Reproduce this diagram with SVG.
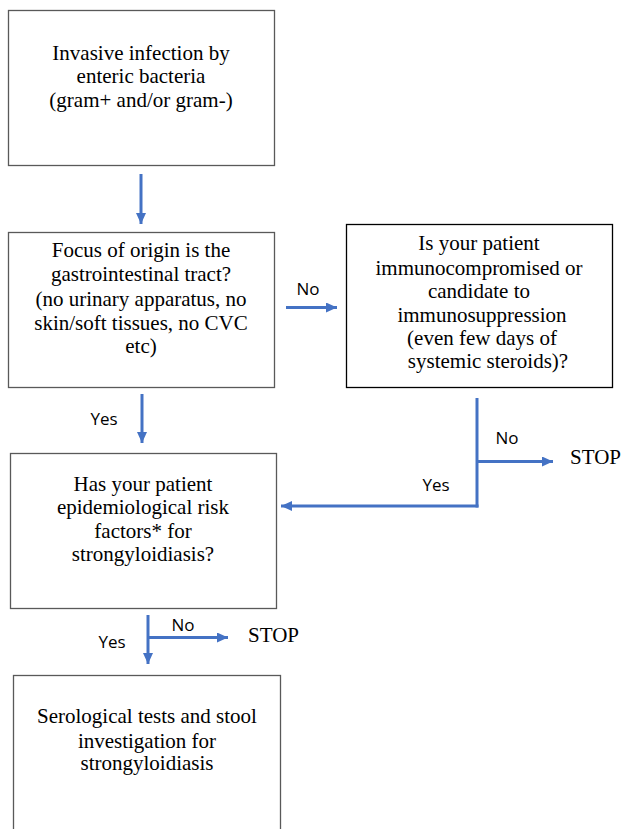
<svg xmlns="http://www.w3.org/2000/svg" width="622" height="829" viewBox="0 0 622 829">
<style>
.box{fill:#fff;stroke:#595959;stroke-width:1.3}
.box.dark{stroke:#000}
.t{font-family:"Liberation Serif","Times New Roman",serif;font-size:21px;fill:#000;text-anchor:middle}
.l{font-family:"Open Sans","Liberation Sans",Arial,sans-serif;font-size:17px;fill:#000;text-anchor:middle}
.c{fill:none;stroke:#4472C4;stroke-width:3}
</style>
<defs>
<marker id="ah" markerUnits="userSpaceOnUse" markerWidth="12" markerHeight="11" refX="11" refY="5" orient="auto">
<path d="M0,0 L11,5 L0,10 z" fill="#4472C4"/>
</marker>
</defs>
<rect width="622" height="829" fill="#fff"/>
<g id="n1">
<rect class="box" x="8.5" y="10.5" width="266" height="155"/>
<text class="t" x="141" y="60">Invasive infection by</text>
<text class="t" x="141" y="83">enteric bacteria</text>
<text class="t" x="141" y="107">(gram+ and/or gram-)</text>
</g>
<g id="n2">
<rect class="box" x="8.5" y="232.5" width="266" height="155"/>
<text class="t" x="141" y="257">Focus of origin is the</text>
<text class="t" x="141" y="281">gastrointestinal tract?</text>
<text class="t" x="141" y="306">(no urinary apparatus, no</text>
<text class="t" x="141" y="330">skin/soft tissues, no CVC</text>
<text class="t" x="141" y="353">etc)</text>
</g>
<g id="n3">
<rect class="box dark" x="346.5" y="224.5" width="266" height="163"/>
<text class="t" x="479" y="250">Is your patient</text>
<text class="t" x="479" y="275">immunocompromised or</text>
<text class="t" x="479" y="298">candidate to</text>
<text class="t" x="482" y="322">immunosuppression</text>
<text class="t" x="482" y="345">(even few days of</text>
<text class="t" x="488" y="368">systemic steroids)?</text>
</g>
<g id="n4">
<rect class="box" x="10.5" y="453.5" width="266" height="155"/>
<text class="t" x="143" y="491">Has your patient</text>
<text class="t" x="143" y="514">epidemiological risk</text>
<text class="t" x="143" y="538">factors* for</text>
<text class="t" x="143" y="561">strongyloidiasis?</text>
</g>
<g id="n5">
<rect class="box" x="13.5" y="675.5" width="267" height="160"/>
<text class="t" x="147" y="723">Serological tests and stool</text>
<text class="t" x="147" y="748">investigation for</text>
<text class="t" x="147" y="770">strongyloidiasis</text>
</g>
<g id="stop1"><text class="t" x="570" y="464" style="text-anchor:start">STOP</text></g>
<g id="stop2"><text class="t" x="248" y="642" style="text-anchor:start">STOP</text></g>
<g id="connectors">
<line class="c" x1="141" y1="174" x2="141" y2="224" marker-end="url(#ah)"/>
<line class="c" x1="286" y1="307.5" x2="337" y2="307.5" marker-end="url(#ah)"/>
<line class="c" x1="142" y1="394" x2="142" y2="443" marker-end="url(#ah)"/>
<line class="c" x1="477" y1="398" x2="477" y2="507.5"/>
<line class="c" x1="477" y1="461.5" x2="553" y2="461.5" marker-end="url(#ah)"/>
<polyline class="c" points="478.5,506 281,506" marker-end="url(#ah)"/>
<line class="c" x1="148" y1="615" x2="148" y2="664" marker-end="url(#ah)"/>
<line class="c" x1="148" y1="637.5" x2="228" y2="637.5" marker-end="url(#ah)"/>
<text class="l" x="308" y="295">No</text>
<text class="l" x="104" y="425">Yes</text>
<text class="l" x="507" y="444">No</text>
<text class="l" x="436" y="491">Yes</text>
<text class="l" x="183" y="631">No</text>
<text class="l" x="112" y="648">Yes</text>
</g>
</svg>
